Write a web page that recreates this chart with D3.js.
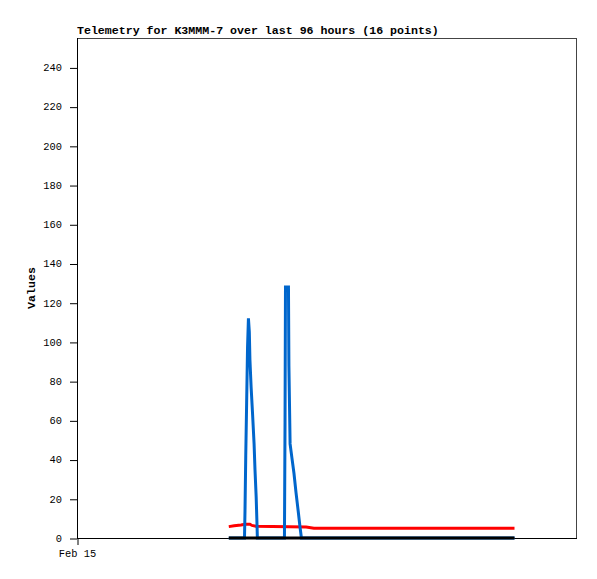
<!DOCTYPE html>
<html><head><meta charset="utf-8">
<script src="https://cdn.jsdelivr.net/npm/d3@7"></script>
<style>body{margin:0;background:#fff}svg{display:block}</style>
</head><body>
<svg id="c" width="597" height="579"></svg>
<script>
// ---- data (hours since Feb 15 00:00) ----
const titleText = "Telemetry for K3MMM-7 over last 96 hours (16 points)";
const yLabel = "Values";
const yTicks = [0,20,40,60,80,100,120,140,160,180,200,220,240];
const xTickLabels = ["Feb 15"];
const xTickHours = [0];
const blueHours = [51,56.28,56.45,56.7,57.0,57.3,57.6,57.9,58.1,58.5,59.0,59.5,59.8,60.2,60.5,60.6,69.7,69.9,70.05,71.05,71.2,71.6,72.2,72.9,73.6,74.3,74.9,75.4,147];
const blueValues = [0,0,14,42,69,97,112,105,91,77,63,48,35,21,6,0,0,59,128,128,88,48,41,33,23,14,6,0,0];
const redHours = [51,52.8,55.1,56.45,58.1,58.8,60.1,77,79.6,147];
const redValues = [5.8,6.2,6.6,7.0,7.0,6.4,6.0,5.6,5.0,5.0];
const blackHours = [51,147];
const blackValues = [0,0];

const svg = d3.select("#c");
const L=77,R=577,T=38,B=538;
const t0 = new Date(2024,1,15,0,0,0);
const toDate = h => new Date(t0.getTime()+h*3600e3);
const x = d3.scaleTime().domain([t0,toDate(168)]).range([L,R]);
const y = d3.scaleLinear().domain([0,255]).range([B,T]);

svg.append("rect").attr("x",L+0.5).attr("y",T+0.5).attr("width",R-L-1).attr("height",B-T)
  .attr("fill","none").attr("stroke","#444").attr("stroke-width",1);

const mono = "'Liberation Mono','DejaVu Sans Mono',monospace";

const yAxis = svg.append("g").attr("transform",`translate(${L},0)`)
  .call(d3.axisLeft(y).tickValues(yTicks).tickSize(7).tickPadding(8).tickFormat(d3.format("d")));
yAxis.select(".domain").remove();
yAxis.selectAll("line").attr("stroke","#000").attr("transform","translate(0,0.5)");
yAxis.selectAll("text").attr("font-family",mono).attr("font-size","10.4px").attr("fill","#000");

const xAxis = svg.append("g").attr("transform",`translate(0,${B})`)
  .call(d3.axisBottom(x).tickValues(xTickHours.map(toDate)).tickSize(7).tickPadding(5)
    .tickFormat((d,i)=>xTickLabels[i]));
xAxis.select(".domain").remove();
xAxis.selectAll("line").attr("stroke","#000").attr("transform","translate(0.5,0)");
xAxis.selectAll("text").attr("font-family",mono).attr("font-size","10.4px").attr("fill","#000");

svg.append("line").attr("x1",L+0.5).attr("x2",L+0.5).attr("y1",T).attr("y2",B+1).attr("stroke","#000");
svg.append("line").attr("x1",L).attr("x2",R).attr("y1",B+0.5).attr("y2",B+0.5).attr("stroke","#000");

const line = d3.line().x(d=>x(toDate(d[0]))).y(d=>y(d[1]));
const series = [
  {h:redHours,v:redValues,c:"#ff0000"},
  {h:blueHours,v:blueValues,c:"#0066cc"},
  {h:blackHours,v:blackValues,c:"#000000"}
];
series.forEach(s=>{
  svg.append("path").datum(s.h.map((h,i)=>[h,s.v[i]]))
    .attr("d",line).attr("fill","none").attr("stroke",s.c).attr("stroke-width",3)
    .attr("stroke-linejoin","miter").attr("stroke-linecap","butt");
});

svg.append("text").attr("x",L).attr("y",34).text(titleText)
  .attr("font-family",mono).attr("font-weight","bold").attr("font-size","11.6px");
svg.append("text").attr("transform",`translate(35,${(T+B)/2})rotate(-90)`).attr("text-anchor","middle")
  .text(yLabel).attr("font-family",mono).attr("font-weight","bold").attr("font-size","11.6px");
</script>
</body></html>
